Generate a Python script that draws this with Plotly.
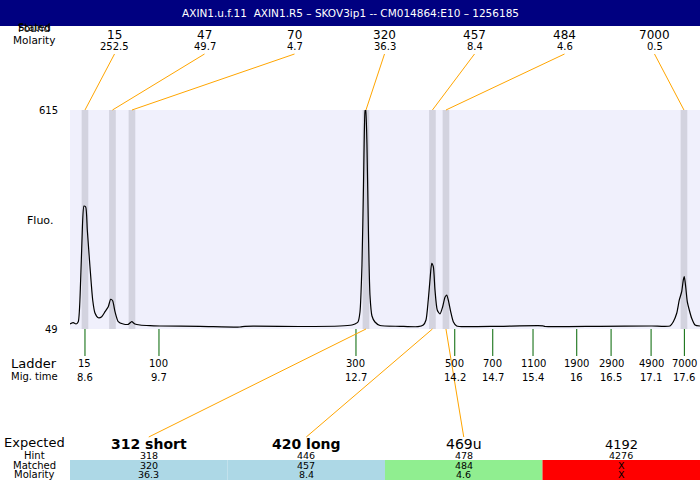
import plotly.graph_objects as go

# ---------------- data ----------------
title_text = "AXIN1.u.f.11  AXIN1.R5 \u2013 SKOV3ip1 -- CM014864:E10 \u2013 1256185"

# electropherogram trace (migration time, fluorescence)
trace_time = [8.375, 8.424, 8.465, 8.499, 8.535, 8.555, 8.585, 8.611, 8.635, 8.675,
              8.716, 8.750, 8.800, 8.851, 8.901, 8.950, 8.986, 9.016, 9.051, 9.100,
              9.175, 9.251, 9.302, 9.351, 9.426, 9.577, 9.727, 10.328, 10.929, 11.004,
              11.830, 12.431, 12.612, 12.657, 12.702, 12.732, 12.762, 12.785, 12.807, 12.819,
              12.837, 12.860, 12.882, 12.912, 12.957, 13.033, 13.333, 13.603, 13.683, 13.724,
              13.758, 13.784, 13.810, 13.834, 13.859, 13.893, 13.934, 13.975, 14.009, 14.035,
              14.059, 14.095, 14.134, 14.185, 14.335, 14.835, 15.481, 15.511, 16.338, 17.115,
              17.390, 17.440, 17.491, 17.530, 17.566, 17.590, 17.605, 17.626, 17.650, 17.680,
              17.716, 17.766, 17.841]
trace_fluo = [61.9, 65.3, 61.9, 67.9, 175.6, 279.0, 366.9, 364.3, 304.9, 210.0,
              124.0, 90.4, 78.2, 80.8, 93.7, 106.6, 125.8, 122.1, 93.7, 67.9,
              61.9, 61.1, 67.9, 61.9, 59.3, 57.5, 56.8, 56.0, 54.2, 56.0,
              55.5, 56.8, 59.3, 61.9, 67.1, 92.9, 214.4, 421.2, 609.8, 620.0,
              524.5, 292.0, 136.9, 82.6, 67.1, 58.0, 56.0, 55.0, 59.3, 72.3,
              124.0, 175.6, 218.8, 210.0, 149.8, 98.1, 87.8, 106.6, 130.9, 136.9,
              124.0, 93.7, 67.9, 56.8, 55.0, 56.0, 57.3, 55.5, 56.0, 56.8,
              56.8, 67.9, 89.6, 124.0, 145.4, 175.6, 184.2, 158.3, 119.6, 98.1,
              76.7, 59.3, 56.8]

# found peaks
found_time = [8.600, 9.013, 9.306, 12.822, 13.821, 14.024, 17.600]
found_size = ["15", "47", "70", "320", "457", "484", "7000"]
found_molarity = ["252.5", "49.7", "4.7", "36.3", "8.4", "4.6", "0.5"]

# ladder
ladder_time = [8.600, 9.712, 12.672, 14.156, 14.727, 15.332, 15.989, 16.505, 17.106, 17.606]
ladder_size = ["15", "100", "300", "500", "700", "1100", "1900", "2900", "4900", "7000"]
ladder_mig = ["8.6", "9.7", "12.7", "14.2", "14.7", "15.4", "16", "16.5", "17.1", "17.6"]

# expected table
expected_label = ["312 short", "420 long", "469u", "4192"]
expected_bold = [True, True, False, False]
hint = ["318", "446", "478", "4276"]
matched = ["320", "457", "484", "X"]
matched_molarity = ["36.3", "8.4", "4.6", "X"]
matched_peak_index = [3, 4, 5, None]
cell_colors = ["#add8e6", "#add8e6", "#90ee90", "#ff0000"]

y_ticks = [49, 615]

# ---------------- layout helpers ----------------
W, H = 700, 480
L, T, B_PX = 70, 110, 329
X0, X1 = 8.375, 17.841
FONT = "DejaVu Sans"


def py(p):  # pixel row -> paper y
    return (B_PX - p) / (B_PX - T)


def px(p):  # pixel column -> paper x
    return (p - L) / (W - L)


def px_data(p):  # pixel column -> data x
    return X0 + (p - L) / (W - L) * (X1 - X0)


def text(x, y, s, size, color="black", xref="paper", yref="paper", xanchor="center"):
    return dict(xref=xref, yref=yref, x=x, y=y, text=s, showarrow=False,
                xanchor=xanchor, yanchor="middle",
                font=dict(family=FONT, size=size, color=color))


fig = go.Figure()
fig.add_trace(go.Scatter(x=trace_time, y=trace_fluo, mode="lines",
                         line=dict(color="black", width=1.2, shape="spline", smoothing=0.6),
                         hoverinfo="skip", showlegend=False))

shapes = []
ann = []

# header bar
shapes.append(dict(type="rect", xref="paper", yref="paper", x0=px(0), x1=px(W),
                   y0=py(26), y1=py(0), fillcolor="#000080", line=dict(width=0), layer="above"))
ann.append(text(px(350), py(13), title_text, 10.5, color="white"))

# found peak bands + labels
band_half = 0.05
for i, t in enumerate(found_time):
    shapes.append(dict(type="rect", xref="x", yref="paper", x0=t - band_half, x1=t + band_half,
                       y0=0, y1=1, fillcolor="#d3d3df", line=dict(width=0), layer="below"))
    lx = 114.5 + 90 * i
    shapes.append(dict(type="line", xref="x", yref="paper", x0=px_data(lx), y0=py(54),
                       x1=t, y1=1, line=dict(color="orange", width=1)))
    ann.append(text(px(lx), py(35), found_size[i], 12))
    ann.append(text(px(lx), py(47), found_molarity[i], 10))

# left top labels (two overlapping labels as in the original)
ann.append(text(px(34), py(28), "Found", 10.5))
ann.append(text(px(34), py(28), "Stated", 10))
ann.append(text(px(34), py(40), "Molarity", 10.5))

# y ticks and axis label
for v in y_ticks:
    ann.append(text(px(60), v, str(v), 10, yref="y", xanchor="right"))
ann.append(text(px(40), py(220), "Fluo.", 11))

# ladder
for i, t in enumerate(ladder_time):
    shapes.append(dict(type="line", xref="x", yref="paper", x0=t, x1=t, y0=0, y1=py(356),
                       line=dict(color="#006400", width=1)))
    ann.append(text(t, py(363), ladder_size[i], 10, xref="x"))
    ann.append(text(t, py(377), ladder_mig[i], 10, xref="x"))
ann.append(text(px(34), py(363), "Ladder", 13))
ann.append(text(px(34), py(376), "Mig. time", 10))

# expected table
col_w = (W - L) / len(expected_label)
for i in range(len(expected_label)):
    cx = L + col_w * (i + 0.5)
    shapes.append(dict(type="rect", xref="paper", yref="paper", x0=px(L + col_w * i),
                       x1=px(L + col_w * (i + 1)), y0=py(480), y1=py(460),
                       fillcolor=cell_colors[i], line=dict(width=0), layer="below"))
    txt = "<b>%s</b>" % expected_label[i] if expected_bold[i] else expected_label[i]
    size = 14 if i < 3 else 13
    ann.append(text(px(cx), py(444), txt, size))
    ann.append(text(px(cx), py(455.5), hint[i], 9.5))
    ann.append(text(px(cx), py(465), matched[i], 9.5))
    ann.append(text(px(cx), py(474.5), matched_molarity[i], 9.5))
    k = matched_peak_index[i]
    if k is not None:
        shapes.append(dict(type="line", xref="x", yref="paper", x0=found_time[k], y0=0,
                           x1=px_data(cx), y1=py(437), line=dict(color="orange", width=1)))

for lbl, yy, sz in [("Expected", 443, 13), ("Hint", 455.5, 10), ("Matched", 465, 10),
                    ("Molarity", 474.5, 10)]:
    ann.append(text(px(34), py(yy), lbl, sz))

fig.update_layout(
    width=W, height=H,
    margin=dict(l=L, r=0, t=T, b=H - B_PX, pad=0),
    paper_bgcolor="white", plot_bgcolor="#f0f0fc",
    xaxis=dict(range=[X0, X1], visible=False, fixedrange=True),
    yaxis=dict(range=[49, 615], visible=False, fixedrange=True),
    shapes=shapes, annotations=ann, showlegend=False,
    font=dict(family=FONT),
)

fig.write_html("out.html", config={"displayModeBar": False},
               post_script="document.body.style.margin='0';document.body.style.overflow='hidden';")
